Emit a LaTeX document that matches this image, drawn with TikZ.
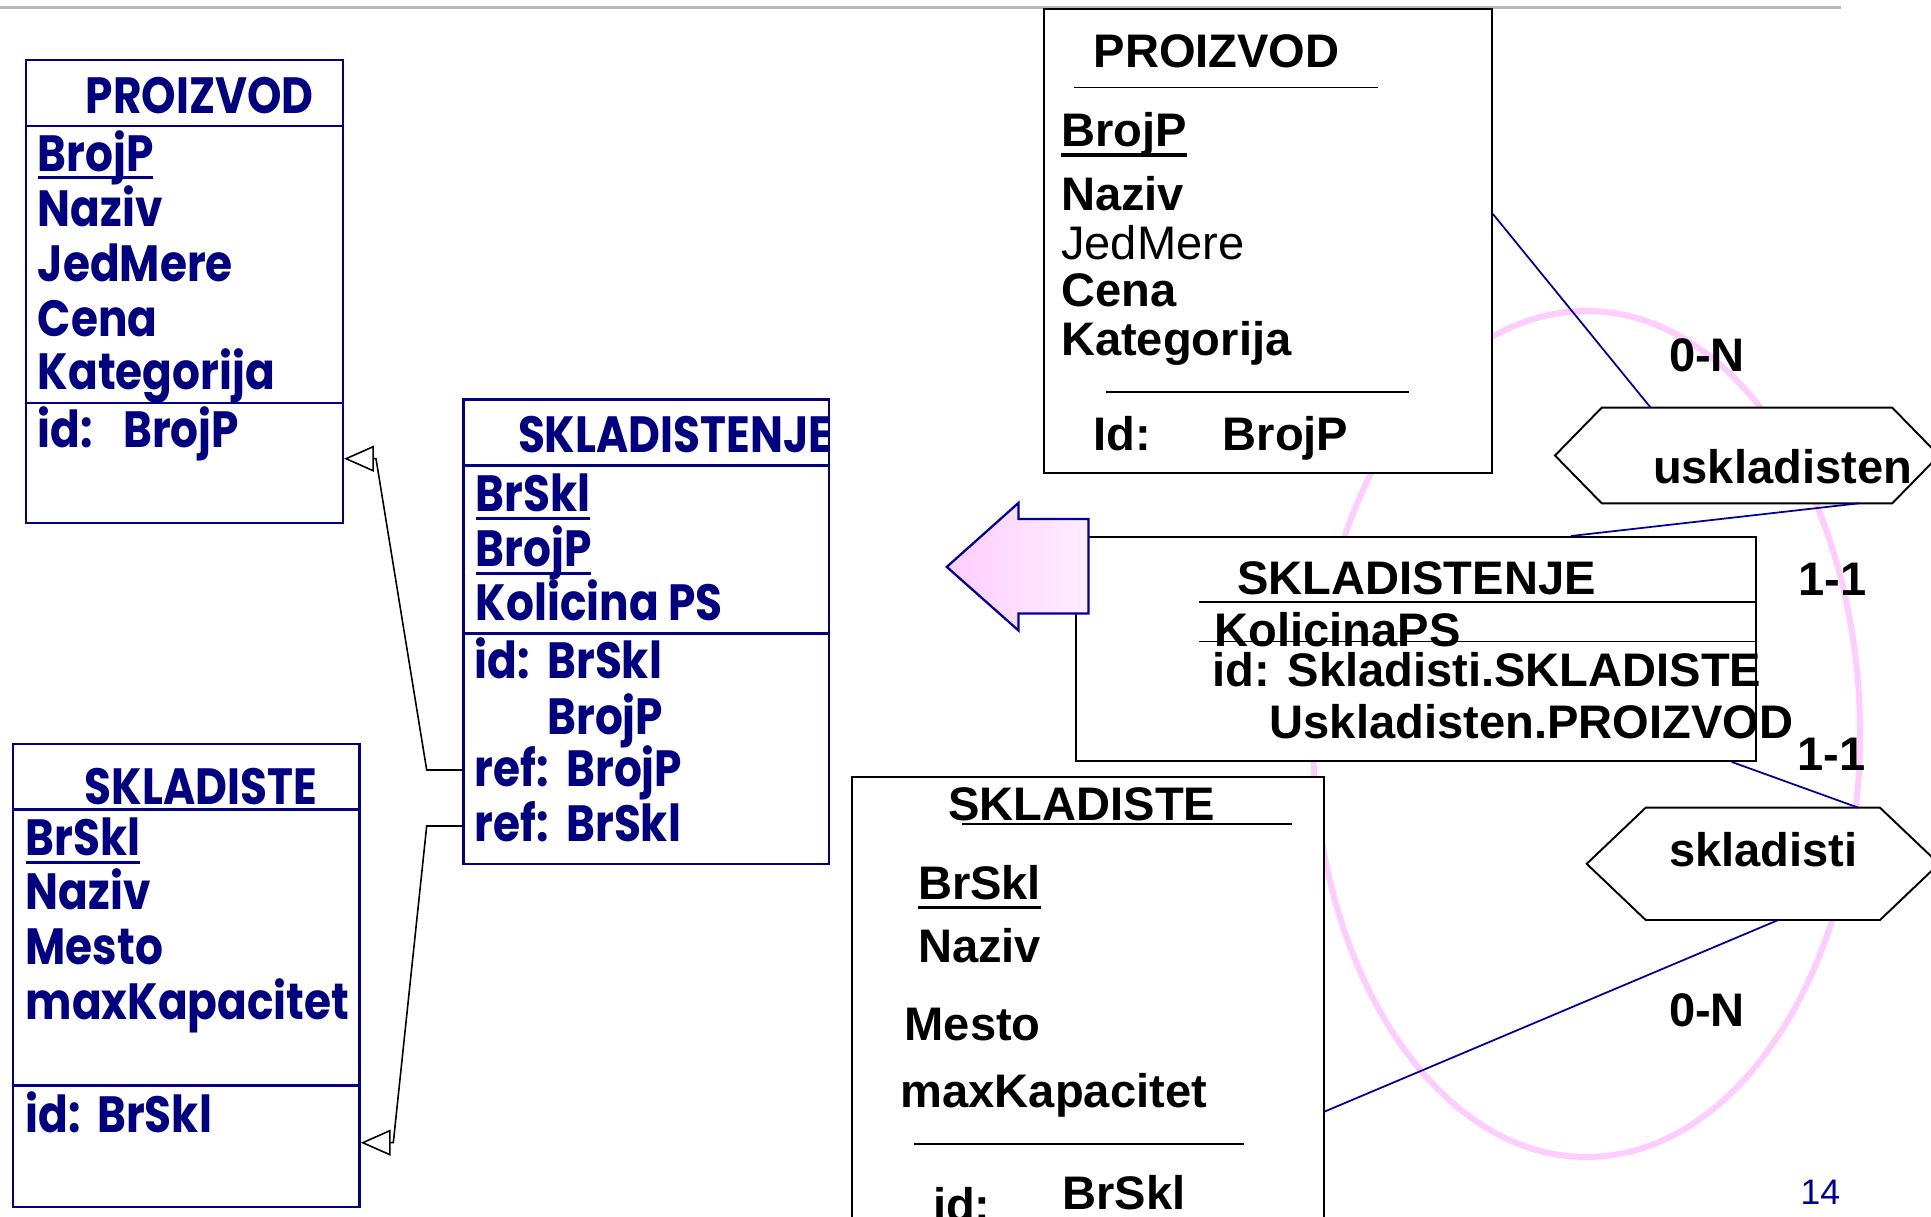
\documentclass[tikz,border=0pt]{standalone}
\usepackage{fontspec}
\setmainfont{Liberation Sans}
\newfontfamily\gothic{Poppins}[FakeStretch=0.86]
\usetikzlibrary{arrows.meta}

\newlength\px
\setlength\px{0.1mm}
\definecolor{ernavy}{RGB}{0,0,128}
\definecolor{erlink}{RGB}{0,0,153}
\definecolor{erpink}{RGB}{255,204,255}
\newcommand\lkey[1]{\setbox0\hbox{#1}\rlap{\rule[-2.4pt]{\wd0}{0.85pt}}\box0}
\newcommand\rkey[1]{\setbox0\hbox{#1}\rlap{\rule[-2.8pt]{\wd0}{1pt}}\box0}

\begin{document}
\begin{tikzpicture}[x=0.1mm,y=-0.1mm,
    lbox/.style={draw=ernavy,line width=0.7pt,fill=white,anchor=north west,inner sep=0pt},
    rbox/.style={draw=black,line width=0.55pt,fill=white,anchor=north west,inner sep=0pt},
    ltext/.style={anchor=base west,inner sep=0pt,text=ernavy,font=\gothic\bfseries\fontsize{14.5}{17}\selectfont},
    rtext/.style={anchor=base west,inner sep=0pt,font=\bfseries\fontsize{13.4}{16}\selectfont},
    lline/.style={draw=ernavy,line width=0.7pt},
    rline/.style={draw=black,line width=0.55pt},
    fk/.style={line width=0.45pt,-{Triangle[open,length=8.5pt,width=7.4pt]}},
    link/.style={draw=erlink,line width=0.5pt}
]
\useasboundingbox (0,0) rectangle (1931,1217);
\clip (0,0) rectangle (1931,1217);

\draw[gray!55,line width=0.7pt] (0,7.5) -- (1841,7.5);
\draw[erpink,line width=1.7pt] (1586.5,734) ellipse [x radius=273.5,y radius=423];

% relational schema
\node[lbox,minimum width=317.1\px,minimum height=463.5\px] (proizvodL) at (24.5,58.5) {};
\draw[lline] (24.5,126) -- (341.6,126);
\draw[lline] (24.5,403) -- (341.6,403);
\node[ltext] (lPtitle) at (85,113.5) {PROIZVOD};
\node[ltext] (lPkey) at (37,171) {\lkey{BrojP}};
\node[ltext] (lPnaziv) at (37,226.6) {Naziv};
\node[ltext] (lPjed) at (37,281) {JedMere};
\node[ltext] (lPcena) at (37,336) {Cena};
\node[ltext] (lPkat) at (37,389.5) {Kategorija};
\node[ltext] (lPid) at (37,447) {\makebox[85.6\px][l]{id:}BrojP};

\node[lbox,minimum width=365.4\px,minimum height=464.7\px] (skladistenjeL) at (462.3,398.3) {};
\draw[lline] (462.3,465.7) -- (827.7,465.7);
\draw[lline] (462.3,633.3) -- (827.7,633.3);
\node[ltext] (lStitle) at (517.3,452.7) {SKLADISTENJE};
\node[ltext] (lSkey1) at (475,511.7) {\lkey{BrSkl}};
\node[ltext] (lSkey2) at (475,566.7) {\lkey{BrojP}};
\node[ltext] (lSkol) at (475,620.7) {Kolicina PS};
\node[ltext] (lSid1) at (474,678.3) {\makebox[72.7\px][l]{id:}BrSkl};
\node[ltext] (lSid2) at (546.7,734) {BrojP};
\node[ltext] (lSref1) at (474,786) {\makebox[91.7\px][l]{ref:}BrojP};
\node[ltext] (lSref2) at (474,841.7) {\makebox[91.7\px][l]{ref:}BrSkl};

\node[lbox,minimum width=346.3\px,minimum height=463.3\px] (skladisteL) at (12,742.7) {};
\draw[lline] (12,809.3) -- (358.3,809.3);
\draw[lline] (12,1085.7) -- (358.3,1085.7);
\node[ltext] (lKtitle) at (84,804.3) {SKLADISTE};
\node[ltext] (lKkey) at (25,855.7) {\lkey{BrSkl}};
\node[ltext] (lKnaziv) at (25,909.3) {Naziv};
\node[ltext] (lKmesto) at (25,964) {Mesto};
\node[ltext] (lKkap) at (25,1019.3) {maxKapacitet};
\node[ltext] (lKid) at (25,1132.3) {\makebox[71.7\px][l]{id:}BrSkl};

\draw[fk] (skladistenjeL.west |- 0,770) -- (426.7,770) -- (376,458.7) -- (proizvodL.east |- 0,458.7);
\draw[fk] (skladistenjeL.west |- 0,826) -- (426.7,826) -- (393.3,1142.7) -- (skladisteL.east |- 0,1142.7);

% ER schema
\node[rbox,minimum width=447.8\px,minimum height=463.9\px] (proizvodR) at (1043.2,7.9) {};
\draw[rline] (1074,87.5) -- (1377.5,87.5);
\draw[rline] (1106.4,391.8) -- (1409,391.8);
\node[rtext] (rPtitle) at (1092.9,67.9) {PROIZVOD};
\node[rtext] (rPkey) at (1060.4,147) {\rkey{BrojP}};
\node[rtext] (rPnaziv) at (1060.4,210.7) {Naziv};
\node[rtext,font=\mdseries\fontsize{13.4}{16}\selectfont] (rPjed) at (1060.4,259) {JedMere};
\node[rtext] (rPcena) at (1060.4,306.4) {Cena};
\node[rtext] (rPkat) at (1060.4,355.4) {Kategorija};
\node[rtext] (rPid) at (1092.9,450.7) {\makebox[129.1\px][l]{Id:}BrojP};

\node[rbox,minimum width=680\px,minimum height=224\px] (skladistenjeR) at (1075,536) {};
\draw[rline] (1199.4,601.7) -- (1755,601.7);
\node[rtext] (rStitle) at (1236.5,594.8) {SKLADISTENJE};
\node[rtext] (rSkol) at (1214,646.5) {KolicinaPS};
\draw[rline] (1199.4,641.5) -- (1755,641.5);
\node[rtext] (rSid1) at (1212,686.7) {id: Skladisti.SKLADISTE};
\node[rtext] (rSid2) at (1269,738.3) {Uskladisten.PROIZVOD};

\node[rbox,minimum width=471.9\px,minimum height=470\px] (skladisteR) at (850.7,775.7) {};
\draw[rline] (962.3,823.7) -- (1292.3,823.7);
\draw[rline] (914,1144) -- (1244,1144);
\node[rtext] (rKtitle) at (947.7,820) {SKLADISTE};
\node[rtext] (rKkey) at (917.3,899.3) {\rkey{BrSkl}};
\node[rtext] (rKnaziv) at (917.3,962.7) {Naziv};
\node[rtext] (rKmesto) at (904,1040) {Mesto};
\node[rtext] (rKkap) at (900,1107.7) {maxKapacitet};
\node[rtext] (rKid1) at (932.3,1221) {id:};
\node[rtext] (rKid2) at (1061.7,1209.7) {BrSkl};

\draw[rline,fill=white] (1555,455.5) -- (1601.7,407.7) -- (1892.3,407.7) -- (1939,455.5)
    -- (1892.3,503.3) -- (1601.7,503.3) -- cycle;
\coordinate (usklN) at (1650.7,407.7);
\coordinate (usklS) at (1859,503.3);
\node[rtext] (uskl) at (1652.3,483.3) {uskladisten};

\draw[rline,fill=white] (1586.7,863.8) -- (1645.7,807.7) -- (1880,807.7) -- (1939,863.8)
    -- (1880,920) -- (1645.7,920) -- cycle;
\coordinate (skladN) at (1858.3,807.7);
\coordinate (skladS) at (1778.3,920);
\node[rtext] (sklad) at (1668.3,866.7) {skladisti};

\draw[link] (proizvodR.east |- 0,214) -- (usklN);
\draw[link] (usklS) -- (skladistenjeR.north -| 1571,0);
\draw[link] (skladistenjeR.south -| 1731.7,0) -- (skladN);
\draw[link] (skladS) -- (skladisteR.east |- 0,1111.6);

\node[rtext] (card1) at (1668.3,371) {0-N};
\node[rtext] (card2) at (1797.7,595) {1-1};
\node[rtext] (card3) at (1796.7,770.7) {1-1};
\node[rtext] (card4) at (1668.3,1026.7) {0-N};

\draw[draw=erlink,line width=0.65pt,left color=erpink,right color=erpink!35!white]
    (946.8,566.9) -- (1018.4,503) -- (1018.4,519) -- (1088.4,519) -- (1088.4,613.6)
    -- (1018.4,613.6) -- (1018.4,630.4) -- cycle;

\node[anchor=base west,inner sep=0pt,text=erlink,font=\fontsize{10.1}{12}\selectfont] (pagenum) at (1800,1204) {14};
\end{tikzpicture}
\end{document}
